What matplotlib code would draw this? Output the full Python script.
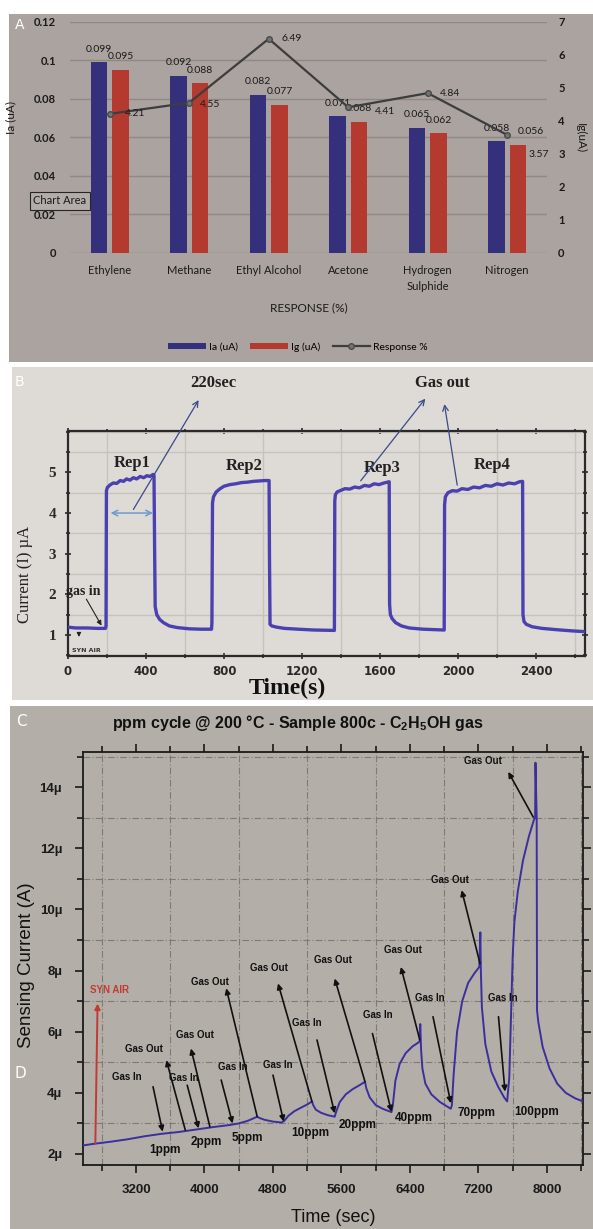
import matplotlib.pyplot as plt
from matplotlib.patches import Rectangle
from matplotlib.ticker import MultipleLocator, FixedLocator
import numpy as np

plt.rcParams['mathtext.default'] = 'regular'

# ---------------- panel A : bar + line (Excel style)
gases = ['Ethylene', 'Methane', 'Ethyl Alcohol', 'Acetone', 'Hydrogen\nSulphide', 'Nitrogen']
ia_values = [0.099, 0.092, 0.082, 0.071, 0.065, 0.058]
ig_values = [0.095, 0.088, 0.077, 0.068, 0.062, 0.056]
response = [4.21, 4.55, 6.49, 4.41, 4.84, 3.57]
a_left_ticks = [0, 0.02, 0.04, 0.06, 0.08, 0.1, 0.12]
a_left_labels = ['0', '0.02', '0.04', '0.06', '0.08', '0.1', '0.12']
a_right_ticks = [0, 1, 2, 3, 4, 5, 6, 7]

# ---------------- panel B : 4 repeated cycles
b_time = [0, 40, 100, 150, 192, 195, 197, 202, 215, 232, 250, 268, 285, 300, 318, 335, 352,
          370, 388, 405, 420, 436, 441, 444, 447, 455, 470, 490, 520, 560, 620, 680, 736,
          738, 741, 746, 760, 780, 800, 830, 860, 890, 920, 950, 980, 1010, 1031,
          1033, 1036, 1045, 1070, 1110, 1180, 1260, 1366,
          1368, 1371, 1380, 1400, 1420, 1445, 1470, 1495, 1520, 1545, 1570, 1595, 1620, 1647,
          1649, 1653, 1662, 1680, 1710, 1750, 1820, 1929,
          1931, 1935, 1948, 1970, 1995, 2020, 2050, 2080, 2110, 2140, 2170, 2200, 2230,
          2260, 2290, 2315, 2331,
          2333, 2338, 2350, 2380, 2430, 2500, 2580, 2650]
b_current = [1.19, 1.17, 1.17, 1.16, 1.16, 1.22, 4.55, 4.63, 4.69, 4.74, 4.73, 4.8, 4.78,
             4.84, 4.81, 4.87, 4.84, 4.9, 4.87, 4.92, 4.9, 4.95, 4.93, 3.2, 1.7, 1.5, 1.38,
             1.3, 1.22, 1.18, 1.15, 1.14, 1.14,
             1.3, 4.25, 4.4, 4.52, 4.6, 4.66, 4.7, 4.72, 4.75, 4.76, 4.78, 4.79, 4.8, 4.8,
             3.0, 1.26, 1.22, 1.19, 1.16, 1.14, 1.12, 1.11,
             4.3, 4.45, 4.52, 4.56, 4.6, 4.59, 4.64, 4.62, 4.68, 4.66, 4.72, 4.7, 4.74, 4.77,
             1.75, 1.5, 1.4, 1.3, 1.22, 1.17, 1.14, 1.12,
             4.2, 4.4, 4.5, 4.55, 4.54, 4.6, 4.58, 4.64, 4.62, 4.68, 4.66, 4.72, 4.69,
             4.74, 4.72, 4.77, 4.78,
             1.5, 1.33, 1.26, 1.2, 1.16, 1.13, 1.1, 1.08]
b_rep_labels = ['Rep1', 'Rep2', 'Rep3', 'Rep4']

# ---------------- panel C : ppm cycle
c_time = [2581, 2700, 2900, 3100, 3300, 3500, 3700, 3900, 4100, 4300, 4400, 4500, 4560,
          4615, 4640, 4700, 4800, 4900, 4930, 4980, 5050, 5130, 5200, 5256, 5270, 5300,
          5360, 5440, 5521, 5540, 5580, 5650, 5730, 5810, 5875, 5890, 5930, 6000, 6080,
          6184, 6200, 6230, 6280, 6350, 6430, 6500, 6515, 6520, 6530, 6545, 6580, 6650,
          6750, 6877, 6890, 6910, 6950, 7010, 7080, 7150, 7210, 7222, 7228, 7240, 7280,
          7350, 7430, 7500, 7535, 7560, 7600, 7620, 7660, 7720, 7790, 7850, 7862, 7866,
          7880, 7884, 7900, 7950, 8030, 8120, 8220, 8330, 8421]
c_current = [2.28, 2.33, 2.4, 2.48, 2.58, 2.66, 2.72, 2.8, 2.88, 2.95, 3.0, 3.08, 3.15,
             3.22, 3.18, 3.12, 3.06, 3.03, 3.08, 3.25, 3.4, 3.52, 3.62, 3.72, 3.6, 3.45,
             3.35, 3.27, 3.22, 3.4, 3.7, 3.95, 4.12, 4.25, 4.36, 4.15, 3.85, 3.6, 3.48,
             3.37, 3.6, 4.4, 4.95, 5.3, 5.52, 5.65, 5.7, 6.25, 5.4, 4.8, 4.3, 3.95,
             3.7, 3.48, 3.6, 4.6, 6.0, 7.0, 7.6, 7.9, 8.12, 9.25, 8.0, 6.8, 5.6,
             4.7, 4.2, 3.85, 3.72, 4.5, 8.5, 9.6, 10.6, 11.6, 12.4, 12.95, 13.0, 14.8,
             13.0, 6.7, 6.3, 5.5, 4.8, 4.3, 4.0, 3.82, 3.72]
c_ppm = ['1ppm', '2ppm', '5ppm', '10ppm', '20ppm', '40ppm', '70ppm', '100ppm']

W, H = 593, 1229


def fx(x):
    return x / W


def fy(y):
    return 1 - y / H


fig = plt.figure(figsize=(W / 100, H / 100), dpi=100)

# panel backgrounds (pixel boxes)
for x0, y0, x1, y1, col in [(9, 14, 593, 362, '#aaa39f'),
                            (12, 367, 593, 700, '#dedad5'),
                            (10, 706, 593, 1229, '#b4aea8')]:
    fig.add_artist(Rectangle((fx(x0), fy(y1)), (x1 - x0) / W, (y1 - y0) / H,
                             transform=fig.transFigure, facecolor=col,
                             edgecolor='none', zorder=-5))

# ======================= A
fa = 'Lato'
txt_a = '#1a1a1a'
axA = fig.add_axes([fx(70), fy(252.5), (547 - 70) / W, (252.5 - 22) / H])
axA.set_facecolor('none')
x = np.arange(len(gases))
bars1 = axA.bar(x - 0.135, ia_values, 0.21, color='#35307c', label='Ia (uA)', zorder=3)
bars2 = axA.bar(x + 0.135, ig_values, 0.21, color='#b43a2f', label='Ig (uA)', zorder=3)
axA.set_xlim(-0.5, 5.5)
axA.set_ylim(0, 0.12)
axA.set_yticks(a_left_ticks)
axA.set_yticklabels(a_left_labels, fontfamily=fa, fontsize=8, color=txt_a, fontweight='bold')
axA.set_xticks(x)
axA.set_xticklabels(gases, fontfamily=fa, fontsize=8, color=txt_a, linespacing=1.5)
axA.tick_params(axis='y', length=0, pad=10)
axA.tick_params(axis='x', length=0, pad=9)
axA.grid(axis='y', color='#8f8884', lw=1)
axA.set_axisbelow(True)
for s in axA.spines.values():
    s.set_visible(False)

ig_dx = [0, 0, 0, 0, 0, 9.5]
for i in range(len(gases)):
    axA.annotate(f'{ia_values[i]:g}', (x[i] - 0.135, ia_values[i]), xytext=(0, 9.4),
                 textcoords='offset points', ha='center', va='center',
                 fontsize=7.5, fontfamily=fa, color=txt_a, zorder=5)
    axA.annotate(f'{ig_values[i]:g}', (x[i] + 0.135, ig_values[i]), xytext=(ig_dx[i], 9.4),
                 textcoords='offset points', ha='center', va='center',
                 fontsize=7.5, fontfamily=fa, color=txt_a, zorder=5)

axA2 = axA.twinx()
line, = axA2.plot(x, response, color='#3d3d3d', lw=1.6, marker='o', ms=4,
                  mfc='#737373', mec='#4a4a4a', label='Response %')
axA2.set_ylim(0, 7)
axA2.set_yticks(a_right_ticks)
axA2.set_yticklabels([str(v) for v in a_right_ticks], fontfamily=fa, fontsize=8,
                     color=txt_a, fontweight='bold')
axA2.tick_params(axis='y', length=0, pad=8)
for s in axA2.spines.values():
    s.set_visible(False)
resp_off = [(11, 0), (8, -1), (9.5, 0), (19, -3), (9, 0), (15, -14)]
for i, v in enumerate(response):
    axA2.annotate(f'{v:.2f}', (x[i], v), xytext=resp_off[i], textcoords='offset points',
                  ha='left', va='center', fontsize=7.5, fontfamily=fa, color=txt_a)

fig.text(fx(11), fy(118), 'Ia (uA)', rotation=90, ha='center', va='center',
         fontsize=8.5, fontfamily=fa, color=txt_a)
fig.text(fx(580), fy(138), 'Ig(uA)', rotation=270, ha='center', va='center',
         fontsize=8.5, fontfamily=fa, color=txt_a)
fig.text(fx(308.5), fy(308), 'RESPONSE (%)', ha='center', va='center',
         fontsize=8.5, fontfamily=fa, color=txt_a)
fig.text(fx(60), fy(201), 'Chart Area', ha='center', va='center', fontsize=8,
         fontfamily=fa, color=txt_a,
         bbox=dict(boxstyle='square,pad=0.3', fc='#b3aca8', ec='#262626', lw=0.8))
axA.legend(handles=[bars1, bars2, line], loc='center', ncol=3, frameon=False,
           bbox_to_anchor=(fx(298), fy(347)), bbox_transform=fig.transFigure,
           prop={'family': fa, 'size': 7.5}, handlelength=3.6, handleheight=0.6,
           columnspacing=1.2, handletextpad=0.3)
fig.text(fx(20), fy(25), 'A', color='white', fontsize=10, ha='center', va='center')

# ======================= B
serif = 'Liberation Serif'
axB = fig.add_axes([fx(68), fy(656), (585 - 68) / W, (656 - 431) / H])
axB.set_facecolor('none')
axB.plot(b_time, b_current, color='#4b40b0', lw=2.4, zorder=3)
axB.set_xlim(0, 2651)
axB.set_ylim(0.48, 6.02)
axB.xaxis.set_major_locator(MultipleLocator(400))
axB.xaxis.set_minor_locator(MultipleLocator(200))
axB.yaxis.set_major_locator(FixedLocator([1, 2, 3, 4, 5]))
axB.yaxis.set_minor_locator(MultipleLocator(0.5))
axB.grid(which='minor', color='#c6c2bc', lw=1)
axB.tick_params(which='both', direction='inout', length=5, width=1.2, top=True, right=True,
                colors='#2a2a2a')
axB.tick_params(which='minor', length=3)
axB.tick_params(axis='y', pad=6)
axB.tick_params(axis='x', pad=4)
for lab in axB.get_xticklabels() + axB.get_yticklabels():
    lab.set_fontweight('bold')
    lab.set_fontsize(8.5)
for lab in axB.get_yticklabels():
    lab.set_fontfamily(serif)
    lab.set_fontsize(11)
for s in axB.spines.values():
    s.set_linewidth(1.6)
    s.set_color('#2a2a2a')

rep_pos = [(329, 5.23), (902, 5.16), (1610, 5.1), (2173, 5.19)]
for lab, (tx, ty) in zip(b_rep_labels, rep_pos):
    axB.text(tx, ty, lab, ha='center', va='center', fontfamily=serif,
             fontweight='bold', fontsize=12, color='#222')
axB.annotate('', xy=(450, 4.0), xytext=(204, 4.0),
             arrowprops=dict(arrowstyle='<->', color='#6e9bd0', lw=1.1))
axB.annotate('', xy=(677, 6.84), xytext=(328, 4.03), annotation_clip=False,
             arrowprops=dict(arrowstyle='->', color='#3a4a8a', lw=0.9))
axB.text(744, 7.2, '220sec', ha='center', va='center', fontfamily=serif,
         fontweight='bold', fontsize=12, color='#222', clip_on=False)
axB.annotate('', xy=(1841, 6.87), xytext=(1492, 4.74), annotation_clip=False,
             arrowprops=dict(arrowstyle='->', color='#3a4a8a', lw=0.9))
axB.annotate('', xy=(1928, 6.75), xytext=(1998, 4.62), annotation_clip=False,
             arrowprops=dict(arrowstyle='->', color='#3a4a8a', lw=0.9))
axB.text(1918, 7.2, 'Gas out', ha='center', va='center', fontfamily=serif,
         fontweight='bold', fontsize=12, color='#222', clip_on=False)
axB.text(-10, 2.06, 'gas in', ha='left', va='center', fontfamily=serif,
         fontweight='bold', fontsize=10, color='#222', clip_on=False)
axB.annotate('', xy=(179, 1.17), xytext=(87, 1.94),
             arrowprops=dict(arrowstyle='-|>', color='#222', lw=0.8, mutation_scale=7))
axB.annotate('', xy=(56, 0.88), xytext=(56, 1.12),
             arrowprops=dict(arrowstyle='-|>', color='#222', lw=0.8, mutation_scale=6))
axB.text(20, 0.61, 'SYN AIR', ha='left', va='center', fontsize=4.5,
         fontweight='bold', color='#333')
fig.text(fx(25), fy(574), 'Current (I) µA', rotation=90, ha='center', va='center',
         fontfamily=serif, fontsize=12, color='#222')
fig.text(fx(287), fy(688), 'Time(s)', ha='center', va='center',
         fontfamily=serif, fontweight='bold', fontsize=17, color='#111')
fig.text(fx(19), fy(382), 'B', color='white', fontsize=10, ha='center', va='center')

# ======================= C
sans = 'Liberation Sans'
axC = fig.add_axes([fx(83), fy(1165), 500 / W, 413 / H])
axC.set_facecolor('none')
axC.plot(c_time, c_current, color='#3b2f9e', lw=1.4, zorder=3)
axC.set_xlim(2581, 8421)
axC.set_ylim(1.64, 15.15)
axC.xaxis.set_major_locator(MultipleLocator(800))
axC.xaxis.set_minor_locator(MultipleLocator(400))
axC.yaxis.set_major_locator(MultipleLocator(2))
axC.yaxis.set_minor_locator(MultipleLocator(1))
axC.set_yticks(range(2, 15, 2))
axC.set_yticklabels([f'{v}µ' for v in range(2, 15, 2)])
axC.grid(which='minor', color='#7f7a75', lw=0.8, ls=(0, (6, 2, 1, 2)))
axC.tick_params(which='both', direction='out', top=True, right=True, width=1.2,
                colors='#1a1a1a')
axC.tick_params(which='major', length=6)
axC.tick_params(which='minor', length=4)
axC.tick_params(axis='y', pad=9)
axC.tick_params(axis='x', pad=8)
for lab in axC.get_xticklabels() + axC.get_yticklabels():
    lab.set_fontfamily(sans)
    lab.set_fontweight('bold')
    lab.set_fontsize(9.5)
for s in axC.spines.values():
    s.set_linewidth(1.3)
    s.set_color('#1a1a1a')

# (text x, text y, tail x, tail y, tip x, tip y)
gas_in_notes = [(3091, 4.53, 3399, 4.2, 3511, 2.73),
                (3754, 4.48, 3798, 4.25, 3931, 2.84),
                (4328, 4.85, 4195, 4.42, 4328, 3.0),
                (4859, 4.91, 4800, 4.58, 4925, 3.06),
                (5190, 6.27, 5314, 5.73, 5521, 3.33),
                (6029, 6.54, 5962, 5.94, 6184, 3.38),
                (6626, 7.09, 6669, 6.49, 6877, 3.66),
                (7487, 7.09, 7434, 6.49, 7510, 4.04)]
# (text x, text y, start on curve x, y, head x, y)
gas_out_notes = [(3290, 5.45, 3776, 2.78, 3555, 5.07),
                 (3887, 5.89, 4063, 2.89, 3842, 5.45),
                 (4064, 7.63, 4616, 3.22, 4254, 7.42),
                 (4748, 8.07, 5256, 3.71, 4859, 7.58),
                 (5499, 8.34, 5875, 4.36, 5521, 7.74),
                 (6316, 8.67, 6515, 5.73, 6294, 8.12),
                 (6868, 10.95, 7218, 8.23, 7004, 10.63),
                 (7257, 14.85, 7840, 13.02, 7548, 14.5)]
ppm_pos = [(3533, 2.13), (4018, 2.4), (4505, 2.51), (5232, 2.7), (5785, 2.95),
           (6447, 3.19), (7178, 3.33), (7884, 3.39)]
arrow_kw = dict(arrowstyle='-|>', color='#111', lw=1.2, mutation_scale=8,
                shrinkA=0, shrinkB=0)
for tx, ty, ax0, ay0, ax1, ay1 in gas_in_notes:
    axC.text(tx, ty, 'Gas In', ha='center', va='center', fontfamily=sans,
             fontweight='bold', fontsize=7, color='#111', zorder=4)
    axC.annotate('', xy=(ax1, ay1), xytext=(ax0, ay0), arrowprops=arrow_kw, zorder=4)
for tx, ty, ax0, ay0, ax1, ay1 in gas_out_notes:
    axC.text(tx, ty, 'Gas Out', ha='center', va='center', fontfamily=sans,
             fontweight='bold', fontsize=7, color='#111', zorder=4)
    axC.annotate('', xy=(ax1, ay1), xytext=(ax0, ay0), arrowprops=arrow_kw, zorder=4)
for lab, (tx, ty) in zip(c_ppm, ppm_pos):
    axC.text(tx, ty, lab, ha='center', va='center', fontfamily=sans,
             fontweight='bold', fontsize=8.5, color='#111', zorder=4)
axC.annotate('', xy=(2751, 6.92), xytext=(2725, 2.35),
             arrowprops=dict(arrowstyle='-|>', color='#c23b33', lw=1.4, mutation_scale=8,
                             shrinkA=0, shrinkB=0))
axC.text(2893, 7.36, 'SYN AIR', ha='center', va='center', fontfamily=sans,
         fontweight='bold', fontsize=7, color='#c23b33')

fig.text(fx(298), fy(723), 'ppm cycle @ 200 °C - Sample 800c - C$_2$H$_5$OH gas',
         ha='center', va='center', fontfamily=sans, fontweight='bold', fontsize=11.5,
         color='#111')
fig.text(fx(27), fy(965), 'Sensing Current (A)', rotation=90, ha='center', va='center',
         fontfamily=sans, fontsize=13.5, color='#111')
fig.text(fx(333), fy(1218), 'Time (sec)', ha='center', va='center',
         fontfamily=sans, fontsize=13, color='#111')
fig.text(fx(21), fy(722), 'C', color='white', fontsize=11, ha='center', va='center')
fig.text(fx(20), fy(1073), 'D', color='white', fontsize=11, ha='center', va='center')

fig.savefig('out.png', dpi=100)
